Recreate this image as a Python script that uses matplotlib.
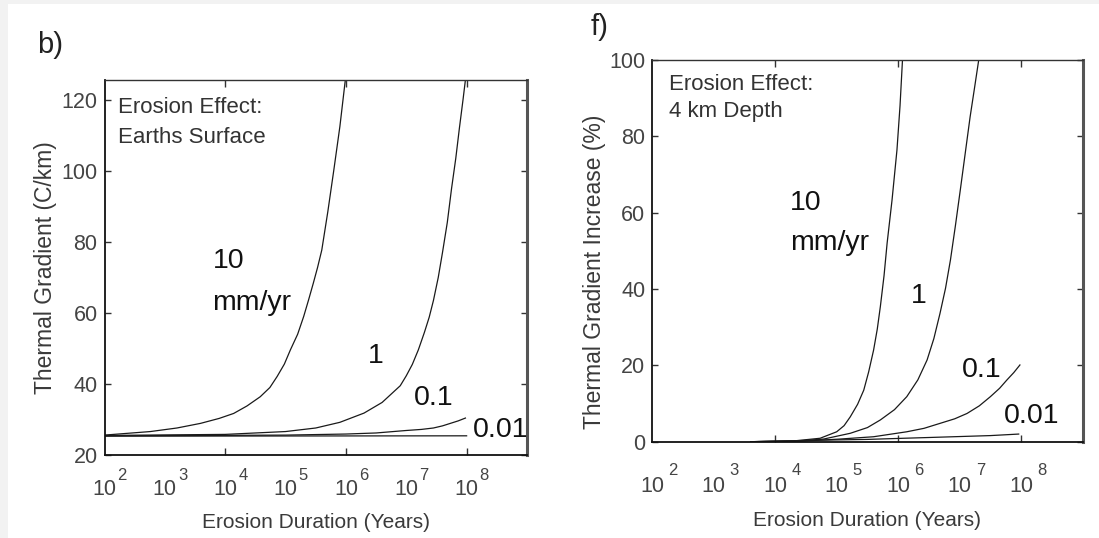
import matplotlib
matplotlib.use('Agg')
import matplotlib.pyplot as plt
from matplotlib.patches import Rectangle
from matplotlib.ticker import FixedLocator, NullFormatter
from matplotlib.transforms import blended_transform_factory, offset_copy

plt.rcParams['font.family'] = ['Liberation Sans', 'DejaVu Sans']

# erosion rates (mm/yr) and curve data, durations given as log10(years)
rates = ['10', '1', '0.1', '0.01']

# b) thermal gradient at the surface (C/km)
surf_logt = {
    '10': [2.0, 2.76, 3.2, 3.59, 3.9, 4.14, 4.36, 4.58, 4.74, 4.86, 4.98, 5.08, 5.20,
           5.30, 5.38, 5.46, 5.53, 5.60, 5.70, 5.80, 5.90, 5.99],
    '1': [2.0, 4.0, 5.0, 5.5, 5.9, 6.3, 6.6, 6.9, 7.0, 7.1, 7.2, 7.3, 7.38, 7.45, 7.53,
          7.6, 7.68, 7.75, 7.82, 7.88, 7.94, 7.98],
    '0.1': [2.0, 5.0, 6.0, 6.5, 7.0, 7.25, 7.45, 7.6, 7.73, 7.86, 7.98],
    '0.01': [2.0, 5.0, 8.0],
}
surf_grad = {
    '10': [25.6, 26.6, 27.6, 28.9, 30.3, 31.7, 33.8, 36.4, 39.0, 42.1, 45.6, 49.6, 54.0,
           59.0, 63.6, 68.4, 72.8, 77.7, 88.5, 100.3, 112.5, 125.6],
    '1': [25.5, 25.8, 26.6, 27.6, 29.2, 31.8, 34.8, 39.5, 42.3, 45.5, 49.6, 54.5, 58.8,
          63.5, 70.0, 77.0, 85.5, 95.0, 103.5, 112.0, 120.0, 125.6],
    '0.1': [25.4, 25.6, 25.9, 26.2, 26.9, 27.2, 27.6, 28.2, 28.9, 29.6, 30.4],
    '0.01': [25.3, 25.35, 25.4],
}

# f) gradient increase at 4 km depth (%)
depth_logt = {
    '10': [3.6, 4.3, 4.73, 5.00, 5.12, 5.22, 5.34, 5.44, 5.52, 5.60, 5.66, 5.71, 5.77,
           5.82, 5.90, 5.98, 6.03, 6.07],
    '1': [3.6, 4.4, 4.79, 5.22, 5.50, 5.71, 5.94, 6.14, 6.32, 6.47, 6.58, 6.68, 6.77,
          6.85, 6.93, 7.01, 7.09, 7.17, 7.24, 7.31],
    '0.1': [3.6, 4.5, 5.06, 5.60, 6.14, 6.42, 6.68, 6.92, 7.12, 7.32, 7.50, 7.65, 7.77,
            7.88, 7.98],
    '0.01': [3.6, 4.73, 5.5, 6.09, 6.5, 7.0, 7.5, 7.96],
}
depth_incr = {
    '10': [0.0, 0.2, 0.9, 2.6, 4.2, 6.5, 9.8, 13.5, 18.3, 24.0, 29.5, 35.4, 43.5,
           52.0, 63.3, 76.4, 88.0, 100.0],
    '1': [0.0, 0.2, 0.7, 2.2, 3.7, 5.7, 8.4, 11.8, 16.2, 21.4, 27.0, 33.6, 40.2,
          47.6, 56.5, 65.9, 75.5, 85.1, 92.5, 100.0],
    '0.1': [0.0, 0.2, 0.7, 1.3, 2.6, 3.5, 4.8, 6.0, 7.4, 9.4, 11.8, 14.0, 16.2,
            18.1, 20.1],
    '0.01': [0.0, 0.4, 0.6, 0.9, 1.1, 1.35, 1.6, 2.0],
}

decades = [2, 3, 4, 5, 6, 7, 8]
marked = [4, 6, 8]

fig = plt.figure(figsize=(10.99, 5.38), dpi=100)
fig.patch.set_facecolor('#f2f2f2')
fig.add_artist(Rectangle((8 / 1099, 0), 1, 534 / 538, transform=fig.transFigure,
                         facecolor='white', edgecolor='none', zorder=0))

ax1 = fig.add_axes([0.0951, 0.1543, 0.3844, 0.697])
ax2 = fig.add_axes([0.5935, 0.179, 0.3916, 0.7095])


def setup(ax, ylim, yticks, ylabel, ylab_y, lab_off, sup_off, sup_dx, xlab_off, note):
    ax.set_xscale('log')
    ax.set_xlim(1e2, 1e9)
    ax.set_ylim(*ylim)
    ax.xaxis.set_major_locator(FixedLocator([10.0 ** k for k in marked]))
    ax.xaxis.set_major_formatter(NullFormatter())
    ax.xaxis.set_minor_locator(FixedLocator([]))
    ax.tick_params(axis='x', which='major', direction='in', length=5, top=True,
                   width=1, color='#333')
    ax.set_yticks(yticks)
    ax.tick_params(axis='y', direction='in', length=4, right=True, width=1,
                   color='#333', labelsize=15.5, labelcolor='#444', pad=5)
    for side in ['left', 'bottom']:
        ax.spines[side].set_linewidth(1.3)
        ax.spines[side].set_color('#111')
    ax.spines['top'].set_linewidth(1.0)
    ax.spines['top'].set_color('#333')
    ax.spines['right'].set_linewidth(2.2)
    ax.spines['right'].set_color('#555')

    # decade labels drawn as "10" plus a raised exponent
    tr = blended_transform_factory(ax.transData, ax.transAxes)
    for k in decades:
        ax.text(10.0 ** k, 0, '10', transform=offset_copy(tr, fig=fig, y=-lab_off, units='dots'),
                ha='center', va='baseline', fontsize=15.5, color='#444', clip_on=False)
        ax.text(10.0 ** k, 0, str(k), transform=offset_copy(tr, fig=fig, x=sup_dx, y=-sup_off, units='dots'),
                ha='left', va='baseline', fontsize=12, color='#444', clip_on=False)
    ax.text(0.5, 0, 'Erosion Duration (Years)',
            transform=offset_copy(ax.transAxes, fig=fig, y=-xlab_off, units='dots'),
            ha='center', va='baseline', fontsize=15, color='#3a3a3a')
    ax.text(ylab_y[0], ylab_y[1], ylabel, transform=ax.transAxes, rotation=90,
            ha='center', va='center', fontsize=16.5, color='#3a3a3a')
    for (tx, ty, s) in note:
        ax.text(tx, ty, s, transform=ax.transAxes, ha='left', va='baseline',
                fontsize=16, color='#333')


for r in rates:
    ax1.plot([10.0 ** v for v in surf_logt[r]], surf_grad[r], color='#1a1a1a', lw=0.9)
    ax2.plot([10.0 ** v for v in depth_logt[r]], depth_incr[r], color='#1a1a1a', lw=0.9)

setup(ax1, (20, 125.6), [20, 40, 60, 80, 100, 120], 'Thermal Gradient (C/km)', (-0.139, 0.5),
      40, 25, 13, 73,
      [(0.032, 0.912, 'Erosion Effect:'), (0.032, 0.832, 'Earths Surface')])
setup(ax2, (0, 100), [0, 20, 40, 60, 80, 100], 'Thermal Gradient Increase (%)', (-0.134, 0.445),
      50, 33, 16, 84,
      [(0.038, 0.921, 'Erosion Effect:'), (0.038, 0.851, '4 km Depth')])

# rate labels next to the curves
big = dict(fontsize=20.5, color='#111', va='baseline')
ax1.text(10 ** 3.79, 72.7, '10', ha='left', **big)
ax1.text(10 ** 3.79, 60.8, 'mm/yr', ha='left', **big)
ax1.text(10 ** 6.50, 45.9, '1', ha='center', **big)
ax1.text(10 ** 7.46, 34.1, '0.1', ha='center', **big)
ax1.text(10 ** 8.10, 25.2, '0.01', ha='left', **big)

ax2.text(10 ** 4.24, 60.7, '10', ha='left', **big)
ax2.text(10 ** 4.24, 50.2, 'mm/yr', ha='left', **big)
ax2.text(10 ** 6.33, 36.3, '1', ha='center', **big)
ax2.text(10 ** 7.36, 17.0, '0.1', ha='center', **big)
ax2.text(10 ** 8.17, 4.9, '0.01', ha='center', **big)

fig.text(50 / 1099, 1 - 45 / 538, 'b)', ha='center', va='center', fontsize=21, color='#222')
fig.text(600 / 1099, 1 - 27 / 538, 'f)', ha='center', va='center', fontsize=21, color='#222')

fig.savefig('out.png', dpi=100, facecolor=fig.get_facecolor())
